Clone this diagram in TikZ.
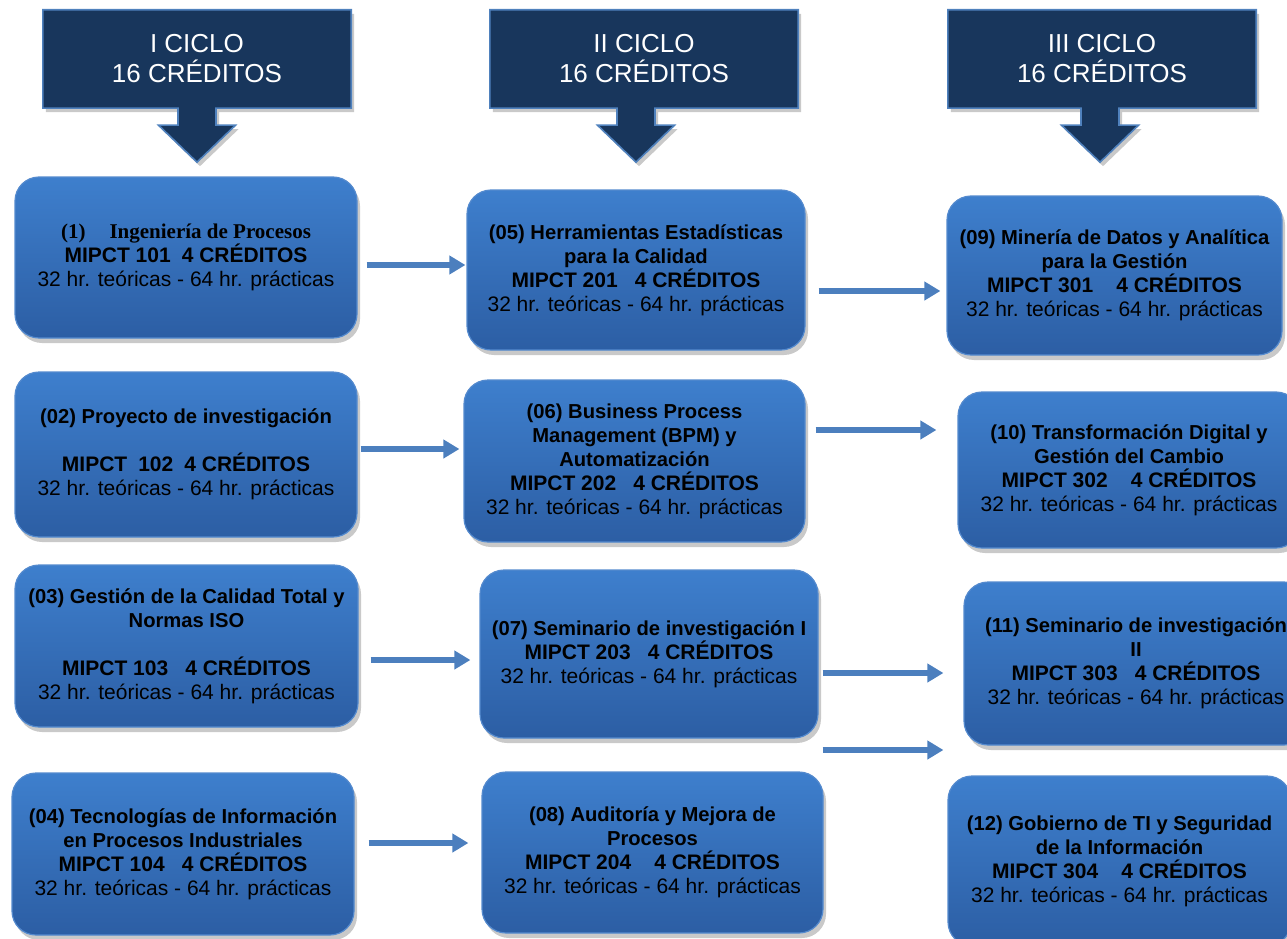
\documentclass[tikz,border=0pt]{standalone}
\usepackage{fontspec}
\setmainfont{Liberation Sans}
\newfontfamily\tmsfont{Liberation Serif}
\usetikzlibrary{shadows,arrows.meta,calc,backgrounds}
\definecolor{navy}{RGB}{24,54,92}
\definecolor{hborder}{RGB}{79,129,189}
\definecolor{boxtop}{RGB}{62,127,205}
\definecolor{boxbot}{RGB}{44,94,164}
\definecolor{boxborder}{RGB}{84,138,206}
\definecolor{arrowc}{RGB}{76,127,190}
\newcommand\ttl[1]{{\fontsize{20.2}{24}\selectfont\bfseries #1}}
\tikzset{
  course/.style={rounded corners=24pt, top color=boxtop, bottom color=boxbot,
    draw=boxborder, line width=1.2pt, inner sep=0pt, align=center, text=black,
    font=\fontsize{21}{24}\selectfont,
    drop shadow={shadow xshift=3pt, shadow yshift=-5pt, opacity=0.3, fill=black!70}},
  head/.style={inner sep=0pt, minimum width=308pt, minimum height=98pt,
    align=center, text=white, font=\fontsize{26}{30}\selectfont},
  callout/.style={fill=navy, draw=hborder, line width=1.6pt,
    drop shadow={shadow xshift=3pt, shadow yshift=-4pt, opacity=0.3, fill=black!70}},
  link/.style={draw=arrowc, line width=6pt, -{Triangle[length=16pt,width=18pt]}},
}
\begin{document}
\begin{tikzpicture}[x=1pt,y=-1pt]
\useasboundingbox (0,0) rectangle (1287,939);
\clip (0,0) rectangle (1287,939);

% headers
\node[head] (h1) at (197,59) {I CICLO\\16 CRÉDITOS};
\node[head] (h2) at (644,59) {II CICLO\\16 CRÉDITOS};
\node[head] (h3) at (1102,59) {III CICLO\\16 CRÉDITOS};
\begin{scope}[on background layer]
\foreach \h/\dx in {h1/0,h2/-8,h3/-2}{
  \draw[callout] (\h.north west) -- (\h.north east) -- (\h.south east)
    -- ($(\h.south)+(\dx+19,0)$) -- ++(0,17) -- ++(19.5,0)
    -- ($(\h.south)+(\dx,54)$)
    -- ($(\h.south)+(\dx-38.5,17)$) -- ++(19.5,0)
    -- ($(\h.south)+(\dx-19,0)$) -- (\h.south west) -- cycle;
}
\end{scope}

% column I
\node[course, minimum width=342pt, minimum height=161pt] (b1) at (186,257.5)
 {{\tmsfont\bfseries (1)\hspace{24pt}Ingeniería de Procesos}\\
  \textbf{MIPCT 101\hspace{11pt}4 CRÉDITOS}\\
  32 hr. teóricas - 64 hr. prácticas};
\node[course, minimum width=342pt, minimum height=165pt] (b2) at (186,454.5)
 {\ttl{(02) Proyecto de investigación}\\[24pt]
  \textbf{MIPCT\hspace{11pt}102\hspace{11pt}4 CRÉDITOS}\\
  32 hr. teóricas - 64 hr. prácticas};
\node[course, minimum width=343pt, minimum height=162pt] (b3) at (186.5,646)
 {\ttl{(03) Gestión de la Calidad Total y}\\
  \ttl{Normas ISO}\\[24pt]
  \textbf{MIPCT 103\hspace{17pt}4 CRÉDITOS}\\
  32 hr. teóricas - 64 hr. prácticas};
\node[course, minimum width=342pt, minimum height=162pt] (b4) at (183,854)
 {\ttl{(04) Tecnologías de Información}\\
  \ttl{en Procesos Industriales}\\
  \textbf{MIPCT 104\hspace{17pt}4 CRÉDITOS}\\
  32 hr. teóricas - 64 hr. prácticas};

% column II
\node[course, minimum width=338pt, minimum height=160pt] (b5) at (636,270)
 {\ttl{(05) Herramientas Estadísticas}\\
  \ttl{para la Calidad}\\
  \textbf{MIPCT 201\hspace{17pt}4 CRÉDITOS}\\
  32 hr. teóricas - 64 hr. prácticas};
\node[course, minimum width=341pt, minimum height=162pt] (b6) at (634.5,461)
 {\ttl{(06) Business Process}\\
  \ttl{Management (BPM) y}\\
  \ttl{Automatización}\\
  \textbf{MIPCT 202\hspace{17pt}4 CRÉDITOS}\\
  32 hr. teóricas - 64 hr. prácticas};
\node[course, minimum width=338pt, minimum height=168pt] (b7) at (649,654)
 {\ttl{(07) Seminario de investigación I}\\
  \textbf{MIPCT 203\hspace{17pt}4 CRÉDITOS}\\
  32 hr. teóricas - 64 hr. prácticas};
\node[course, minimum width=341pt, minimum height=161pt] (b8) at (652.5,852.5)
 {\ttl{(08) Auditoría y Mejora de}\\
  \ttl{Procesos}\\
  \textbf{MIPCT 204\hspace{23pt}4 CRÉDITOS}\\
  32 hr. teóricas - 64 hr. prácticas};

% column III
\node[course, minimum width=335pt, minimum height=159pt] (b9) at (1114.5,275.5)
 {\ttl{(09) Minería de Datos y Analítica}\\
  \ttl{para la Gestión}\\
  \textbf{MIPCT 301\hspace{23pt}4 CRÉDITOS}\\
  32 hr. teóricas - 64 hr. prácticas};
\node[course, minimum width=342pt, minimum height=156pt] (b10) at (1129,470)
 {\ttl{(10) Transformación Digital y}\\
  \ttl{Gestión del Cambio}\\
  \textbf{MIPCT 302\hspace{23pt}4 CRÉDITOS}\\
  32 hr. teóricas - 64 hr. prácticas};
\node[course, minimum width=344pt, minimum height=163pt] (b11) at (1136,663.5)
 {\ttl{(11) Seminario de investigación}\\
  \ttl{II}\\
  \textbf{MIPCT 303\hspace{17pt}4 CRÉDITOS}\\
  32 hr. teóricas - 64 hr. prácticas};
\node[course, minimum width=343pt, minimum height=170pt] (b12) at (1119.5,861)
 {\ttl{(12) Gobierno de TI y Seguridad}\\
  \ttl{de la Información}\\
  \textbf{MIPCT 304\hspace{23pt}4 CRÉDITOS}\\
  32 hr. teóricas - 64 hr. prácticas};

% arrow levels
\coordinate (y1) at (0,265);
\coordinate (y2) at (0,449);
\coordinate (y3) at (0,660);
\coordinate (y4) at (0,843);
\coordinate (y5) at (0,291);
\coordinate (y6) at (0,430);
\coordinate (y7) at (0,673);
\coordinate (y8) at (0,750);

\draw[link, shorten <=9pt, shorten >=1pt] (b1.east |- y1) -- (b5.west |- y1);
\draw[link, shorten <=3pt, shorten >=4pt] (b2.east |- y2) -- (b6.west |- y2);
\draw[link, shorten <=12pt, shorten >=9pt] (b3.east |- y3) -- (b7.west |- y3);
\draw[link, shorten <=14pt, shorten >=13pt] (b4.east |- y4) -- (b8.west |- y4);
\draw[link, shorten <=13pt, shorten >=6pt] (b5.east |- y5) -- (b9.west |- y5);
\draw[link, shorten <=10pt, shorten >=21pt] (b6.east |- y6) -- (b10.west |- y6);
\draw[link, shorten <=4pt, shorten >=20pt] (b7.east |- y7) -- (b11.west |- y7);
\draw[link, shorten <=4pt, shorten >=4pt] (b7.east |- y8) -- (b12.west |- y8);
\end{tikzpicture}
\end{document}
